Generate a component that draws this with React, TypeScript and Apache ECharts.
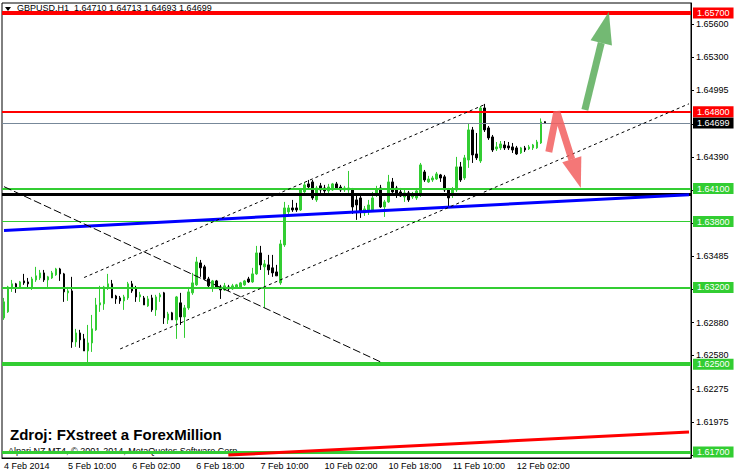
import React, { useEffect, useRef } from "react";
import * as echarts from "echarts";

// ---- Data (GBPUSD H1, bar index 0 = 4 Feb 2014 18:00) ----
const opens = [
  1.62922, 1.62977, 1.63204, 1.63232, 1.63195, 1.63259, 1.6325, 1.63195, 1.63268, 1.63286,
  1.63332, 1.63268, 1.63286, 1.63314, 1.63368, 1.63323, 1.6315, 1.63168, 1.62703, 1.62785,
  1.62731, 1.62621, 1.62694, 1.62813, 1.6304, 1.6305, 1.63195, 1.63232, 1.63122, 1.63104,
  1.63077, 1.63104, 1.63232, 1.63186, 1.63113, 1.63104, 1.63031, 1.63104, 1.62995, 1.63113,
  1.6315, 1.62904, 1.62968, 1.62904, 1.63059, 1.62931, 1.63013, 1.6315, 1.63223, 1.63423,
  1.63387, 1.63277, 1.63204, 1.63259, 1.63204, 1.63177, 1.63204, 1.63186, 1.63204, 1.63204,
  1.63223, 1.63277, 1.6325, 1.63323, 1.63514, 1.63387, 1.63405, 1.63378, 1.63341, 1.63241,
  1.63587, 1.63888, 1.63924, 1.63924, 1.63906, 1.6407, 1.64143, 1.64161, 1.63997, 1.64125,
  1.64106, 1.64079, 1.64088, 1.64143, 1.64115, 1.64088, 1.64088, 1.64088, 1.63997, 1.64015,
  1.63879, 1.63888, 1.63906, 1.64043, 1.64106, 1.63933, 1.63979, 1.64161, 1.64106, 1.6407,
  1.64024, 1.64061, 1.64024, 1.64015, 1.64043, 1.64252, 1.64161, 1.64179, 1.64188, 1.64225,
  1.64207, 1.64088, 1.64043, 1.64088, 1.64298, 1.64197, 1.64361, 1.64635, 1.64416, 1.64352,
  1.64835, 1.64653, 1.64571, 1.64462, 1.64471, 1.64498, 1.64489, 1.6448, 1.64471, 1.64425,
  1.64471, 1.64462, 1.64471, 1.64471, 1.64516, 1.6471,
];
const highs = [
  1.63104, 1.63214, 1.63268, 1.63241, 1.63259, 1.63323, 1.63286, 1.63296, 1.63387, 1.63359,
  1.63359, 1.63305, 1.6335, 1.63378, 1.63378, 1.63332, 1.63204, 1.63296, 1.62822, 1.62813,
  1.62776, 1.62858, 1.62949, 1.63104, 1.63214, 1.63214, 1.63323, 1.63268, 1.63132, 1.63122,
  1.63132, 1.6325, 1.63259, 1.63214, 1.63159, 1.63122, 1.63122, 1.63132, 1.63132, 1.6315,
  1.63159, 1.62977, 1.62977, 1.63122, 1.6315, 1.6304, 1.63204, 1.63332, 1.63478, 1.6345,
  1.63405, 1.63296, 1.63268, 1.63268, 1.63223, 1.63241, 1.63223, 1.63232, 1.63232, 1.6325,
  1.63268, 1.63296, 1.63378, 1.63578, 1.63578, 1.6345, 1.63496, 1.63496, 1.63405, 1.63633,
  1.63979, 1.63951, 1.63997, 1.6397, 1.64106, 1.64161, 1.64179, 1.64179, 1.64125, 1.64152,
  1.64134, 1.64143, 1.64152, 1.64161, 1.64134, 1.64125, 1.64261, 1.64106, 1.64043, 1.64043,
  1.63942, 1.63997, 1.6407, 1.64125, 1.64134, 1.63997, 1.64225, 1.64197, 1.64125, 1.64106,
  1.64088, 1.64079, 1.6407, 1.64106, 1.64334, 1.6427, 1.64216, 1.64216, 1.64252, 1.64234,
  1.64225, 1.64106, 1.64115, 1.64389, 1.64343, 1.64407, 1.64698, 1.64662, 1.64607, 1.64853,
  1.64872, 1.64671, 1.64589, 1.64525, 1.64534, 1.64534, 1.64525, 1.64516, 1.64489, 1.6448,
  1.64489, 1.64498, 1.64507, 1.64544, 1.6474, 1.64713,
];
const lows = [
  1.62904, 1.62968, 1.63159, 1.6315, 1.63186, 1.63223, 1.63204, 1.63177, 1.6325, 1.63268,
  1.6325, 1.63204, 1.63277, 1.63305, 1.63259, 1.63068, 1.63077, 1.62649, 1.62658, 1.62649,
  1.62621, 1.62512, 1.62612, 1.62804, 1.62977, 1.62995, 1.63177, 1.63104, 1.6305, 1.6305,
  1.62995, 1.63086, 1.6315, 1.63068, 1.63068, 1.6304, 1.63022, 1.62977, 1.6294, 1.63068,
  1.62867, 1.62867, 1.62904, 1.62731, 1.62858, 1.6274, 1.62995, 1.63132, 1.63214, 1.63296,
  1.63268, 1.63195, 1.63159, 1.63186, 1.63095, 1.63168, 1.63168, 1.63177, 1.63195, 1.63195,
  1.63214, 1.63241, 1.63241, 1.63314, 1.63359, 1.63013, 1.63314, 1.63296, 1.63305, 1.63223,
  1.63569, 1.63869, 1.63888, 1.63888, 1.63897, 1.64061, 1.64088, 1.63997, 1.63979, 1.64061,
  1.64061, 1.64052, 1.64079, 1.64088, 1.6407, 1.6407, 1.64061, 1.63869, 1.63815, 1.63833,
  1.63851, 1.6386, 1.63888, 1.64024, 1.63924, 1.63842, 1.6397, 1.64061, 1.64015, 1.64024,
  1.63979, 1.63979, 1.64006, 1.63997, 1.64024, 1.64161, 1.64152, 1.64161, 1.64179, 1.64161,
  1.6407, 1.63933, 1.64015, 1.6407, 1.64161, 1.64179, 1.64289, 1.64334, 1.64361, 1.64334,
  1.64616, 1.64544, 1.64434, 1.64443, 1.64452, 1.64452, 1.64452, 1.64425, 1.64407, 1.64416,
  1.64434, 1.64452, 1.64452, 1.64462, 1.64507, 1.64693,
];
const closes = [
  1.63068, 1.63204, 1.63232, 1.63204, 1.6325, 1.63241, 1.63232, 1.63277, 1.63305, 1.63332,
  1.63268, 1.63296, 1.63332, 1.63368, 1.63323, 1.63159, 1.63168, 1.62703, 1.62785, 1.62722,
  1.62621, 1.62694, 1.62822, 1.6304, 1.63059, 1.63204, 1.63232, 1.63104, 1.63095, 1.63077,
  1.63113, 1.63232, 1.63168, 1.63113, 1.63132, 1.6304, 1.63095, 1.62995, 1.63113, 1.63132,
  1.62922, 1.62958, 1.62904, 1.63113, 1.62931, 1.63013, 1.63159, 1.63241, 1.63432, 1.63378,
  1.63277, 1.63214, 1.63259, 1.63204, 1.63177, 1.63214, 1.63186, 1.63214, 1.63223, 1.63241,
  1.63259, 1.6325, 1.63323, 1.63514, 1.63405, 1.63414, 1.63359, 1.63332, 1.63305, 1.63596,
  1.63924, 1.63924, 1.63906, 1.63906, 1.64088, 1.64134, 1.64115, 1.64015, 1.64106, 1.64088,
  1.64079, 1.64115, 1.64143, 1.64106, 1.64088, 1.64106, 1.64106, 1.63933, 1.63951, 1.63888,
  1.63915, 1.63951, 1.64015, 1.64088, 1.63933, 1.63979, 1.64161, 1.6407, 1.64043, 1.64033,
  1.64061, 1.63997, 1.64052, 1.64079, 1.64316, 1.64179, 1.64188, 1.64197, 1.64234, 1.64197,
  1.64088, 1.64015, 1.64088, 1.64298, 1.64179, 1.6438, 1.64635, 1.64407, 1.6438, 1.64835,
  1.64635, 1.64562, 1.64452, 1.6448, 1.64507, 1.64471, 1.64471, 1.64452, 1.64416, 1.64471,
  1.64452, 1.6448, 1.64498, 1.64525, 1.64708, 1.64699,
];

const slotCount = 172; // visible bar slots including empty future area
const xTickIdx = [0, 16, 32, 48, 64, 80, 96, 112, 128];
const xTickLabels = [
  "4 Feb 2014", "5 Feb 10:00", "6 Feb 02:00", "6 Feb 18:00", "7 Feb 10:00",
  "10 Feb 02:00", "10 Feb 18:00", "11 Feb 10:00", "12 Feb 02:00",
];
// all price-scale ticks; the labels that sit under a level box are not printed
const yTickValues = [
  1.656, 1.653, 1.64995, 1.6469, 1.6439, 1.64085, 1.63785, 1.63485, 1.6318, 1.6288,
  1.6258, 1.62275, 1.61975, 1.6167,
];
const yLabelValues = [
  1.656, 1.653, 1.64995, 1.6439, 1.63485, 1.6288, 1.6258, 1.62275, 1.61975,
];
const yMin = 1.616453;
const yMax = 1.657914;

// horizontal levels
const resistanceLevels = [1.657, 1.648];
const bidLevel = 1.64699;
const supportLevels = [1.641, 1.638, 1.632, 1.625, 1.617];
const blackLevel = 1.64052;

// trend lines: [barIndex, price]
const blueTrend = [[0, 1.63719], [171, 1.64045]];
const redTrend = [[56, 1.61672], [171, 1.61883]];
const channelUpper = [[20, 1.6329], [120, 1.64866]];
const channelLower = [[29, 1.62639], [171, 1.64873]];
const fallingLine = [[0, 1.64118], [94, 1.62521]];

// arrows: [barIndex, price]
const greenArrow = [[145, 1.64817], [151, 1.65711]];
const redArrow = [[136, 1.64434], [138, 1.64799], [144, 1.64106]];

const headerText = "GBPUSD,H1  1.64710 1.64713 1.64693 1.64699";
const sourceText = "Zdroj: FXstreet a ForexMillion";
const copyrightText = "Alpari NZ MT4, \u00a9 2001-2014, MetaQuotes Software Corp.";

const FONT = "'Liberation Sans', Arial, sans-serif";
const GREEN = "#32cd32";
const RED = "#ff0000";

export default function App() {
  const ref = useRef<HTMLDivElement>(null);

  useEffect(() => {
    if (!ref.current) return;
    const chart = echarts.init(ref.current, null, { renderer: "svg" });
    const cats = Array.from({ length: slotCount }, (_, i) => String(i));
    const candles = opens.map((o, i) => [o, closes[i], lows[i], highs[i]]);

    const boxLabel = (bg: string) => ({
      show: true,
      position: "end",
      distance: 2,
      formatter: (p: any) => Number(p.value).toFixed(5),
      backgroundColor: bg,
      color: "#fff",
      fontSize: 9,
      fontFamily: FONT,
      lineHeight: 10,
      padding: [1, 4, 0, 4],
    });
    const hLine = (v: number, color: string, width: number, labelBg: string | null) => ({
      yAxis: v,
      lineStyle: { color, width, type: "solid" },
      label: labelBg ? boxLabel(labelBg) : { show: false },
    });
    const seg = (pts: number[][], color: string, width: number, type: any) => [
      { coord: [String(pts[0][0]), pts[0][1]], lineStyle: { color, width, type }, label: { show: false } },
      { coord: [String(pts[1][0]), pts[1][1]] },
    ];

    const supportWidths = [2, 1, 2, 4, 3];

    chart.setOption({
      animation: false,
      backgroundColor: "#fff",
      textStyle: { fontFamily: FONT },
      grid: { left: 2, right: 43, top: 3, bottom: 17, show: true, borderColor: "#000", borderWidth: 1 },
      xAxis: {
        type: "category",
        data: cats,
        boundaryGap: true,
        axisLine: { lineStyle: { color: "#000", width: 1 } },
        axisTick: {
          alignWithLabel: true,
          interval: (i: number) => xTickIdx.includes(i),
          length: 4,
          lineStyle: { color: "#000" },
        },
        axisLabel: {
          interval: (i: number) => xTickIdx.includes(i),
          formatter: (_v: string, i: number) => {
            const k = xTickIdx.indexOf(i);
            return k >= 0 ? xTickLabels[k] : "";
          },
          align: "left",
          margin: 3,
          fontSize: 9,
          color: "#000",
          fontFamily: FONT,
        },
        splitLine: { show: false },
      },
      yAxis: {
        type: "value",
        position: "right",
        min: yMin,
        max: yMax,
        scale: true,
        axisLine: { show: true, onZero: false, lineStyle: { color: "#000" } },
        axisTick: { show: true, customValues: yTickValues, length: 3, lineStyle: { color: "#000" } },
        axisLabel: {
          customValues: yLabelValues,
          formatter: (v: number) => v.toFixed(5),
          margin: 5,
          fontSize: 9,
          color: "#000",
          fontFamily: FONT,
        },
        splitLine: { show: false },
      },
      series: [
        {
          type: "candlestick",
          data: candles,
          barWidth: 2,
          itemStyle: {
            color: GREEN,
            color0: "#000",
            borderColor: GREEN,
            borderColor0: "#000",
            borderWidth: 1,
          },
          markLine: {
            symbol: "none",
            silent: true,
            animation: false,
            precision: 5,
            data: [
              hLine(blackLevel, "#000", 3, null),
              ...supportLevels.map((v, i) => hLine(v, GREEN, supportWidths[i], GREEN)),
              hLine(bidLevel, "#778899", 1, "#000"),
              hLine(resistanceLevels[0], RED, 4, RED),
              hLine(resistanceLevels[1], RED, 2, RED),
              seg(blueTrend, "#0000ff", 3, "solid"),
              seg(redTrend, RED, 3, "solid"),
              seg(channelUpper, "#000", 1, [3, 3]),
              seg(channelLower, "#000", 1, [3, 3]),
              seg(fallingLine, "#000", 1, [8, 3]),
            ],
          },
        },
      ],
    });

    const toPx = (p: number[]) => chart.convertToPixel({ gridIndex: 0 }, [String(p[0]), p[1]]) as number[];
    const arrowEls = (pts: number[][], color: string, width: number, headLen: number, headHalf: number, id: string) => {
      const px = pts.map(toPx);
      const tip = px[px.length - 1];
      const prev = px[px.length - 2];
      const dx = tip[0] - prev[0];
      const dy = tip[1] - prev[1];
      const len = Math.hypot(dx, dy) || 1;
      const ux = dx / len;
      const uy = dy / len;
      const base = [tip[0] - ux * headLen, tip[1] - uy * headLen];
      const nx = -uy;
      const ny = ux;
      const shaft = [...px.slice(0, -1), base];
      return [
        {
          id: id + "-shaft",
          type: "polyline",
          z: 10,
          shape: { points: shaft },
          style: { stroke: color, lineWidth: width, fill: null, lineJoin: "miter", opacity: 0.85 },
        },
        {
          id: id + "-head",
          type: "polygon",
          z: 10,
          shape: {
            points: [
              [base[0] + nx * headHalf, base[1] + ny * headHalf],
              tip,
              [base[0] - nx * headHalf, base[1] - ny * headHalf],
            ],
          },
          style: { fill: color, opacity: 0.85 },
        },
      ];
    };

    chart.setOption({
      graphic: {
        elements: [
          {
            id: "tri",
            type: "polygon",
            z: 0,
            shape: { points: [[5, 7], [11, 7], [8, 11]] },
            style: { fill: "#000" },
          },
          {
            id: "hdr",
            type: "text",
            z: 0,
            left: 17,
            top: 3,
            style: { text: headerText, fill: "#000", font: `9px ${FONT}` },
          },
          {
            id: "src",
            type: "text",
            z: 0,
            left: 10,
            top: 427,
            style: { text: sourceText, fill: "#000", font: `bold 15px ${FONT}` },
          },
          {
            id: "copy",
            type: "text",
            z: 0,
            left: 8,
            top: 446,
            style: { text: copyrightText, fill: "#000", font: `9px ${FONT}` },
          },
          ...arrowEls(greenArrow, "#5aad5a", 7, 32, 11, "ga"),
          ...arrowEls(redArrow, "#f25f5f", 7, 30, 10, "ra"),
        ],
      },
    });

    return () => chart.dispose();
  }, []);

  return (
    <div
      ref={ref}
      style={{ position: "fixed", left: 0, top: 0, width: 734, height: 475, background: "#fff" }}
    />
  );
}
